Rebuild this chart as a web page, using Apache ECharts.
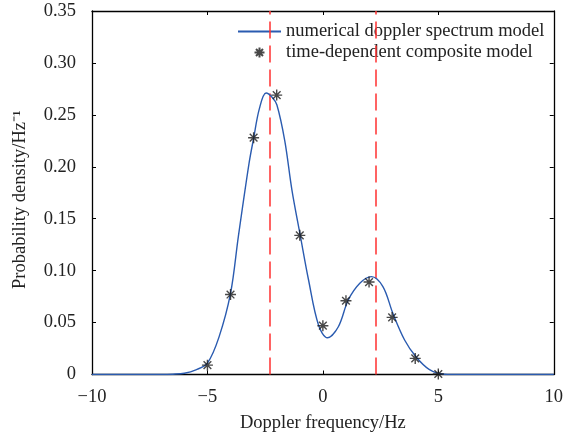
<!DOCTYPE html>
<html>
<head>
<meta charset="utf-8">
<script src="https://cdn.jsdelivr.net/npm/echarts@6/dist/echarts.min.js"></script>
<style>
  html, body { margin: 0; padding: 0; background: #fff; }
  #chart { width: 566px; height: 441px; }
</style>
</head>
<body>
<div id="chart"></div>
<script>
// curve: [frequency, density]
var modelCurve = [
  [-10, 0], [-8, 0], [-7, 0], [-6.5, 0.0003], [-6, 0.0012], [-5.5, 0.0045],
  [-5, 0.011], [-4.5, 0.036], [-4, 0.078], [-3.66, 0.133], [-3.2, 0.203],
  [-3, 0.2274], [-2.75, 0.256], [-2.46, 0.271], [-2.2, 0.267], [-1.99, 0.2595],
  [-1.65, 0.225], [-1.34, 0.1776], [-0.98, 0.134], [-0.62, 0.091],
  [-0.19, 0.0477], [0.2, 0.0354], [0.67, 0.046], [1.1, 0.0717], [1.6, 0.0878],
  [2.1, 0.0942], [2.6, 0.0846], [3.03, 0.059], [3.54, 0.0332], [4.03, 0.0171],
  [4.6, 0.005], [5.25, 0.0003], [6, 0], [8, 0], [10, 0]
];
// composite model samples
var compositeX = [-5, -4, -3, -2, -1, 0, 1, 2, 3, 4, 5];
var compositeY = [0.009, 0.077, 0.228, 0.269, 0.134, 0.047, 0.071, 0.089, 0.055, 0.0155, 0.0005];
// dashed reference lines
var peakLines = [-2.3, 2.3];
var xTicks = ['\u221210', '\u22125', '0', '5', '10'];
var yTicks = ['0', '0.05', '0.10', '0.15', '0.20', '0.25', '0.30', '0.35'];

var font = '"Liberation Serif", "Times New Roman", serif';
var fs = 18.5;
var starPath = 'path://M5,0L5,10M0,5L10,5M1.5,1.5L8.5,8.5M1.5,8.5L8.5,1.5';

var myChart = echarts.init(document.getElementById('chart'));
var axisLine = { onZero: false, lineStyle: { color: '#000', width: 1.3 } };
var tick = { inside: true, length: 4, lineStyle: { color: '#000', width: 1 } };

var option = {
  backgroundColor: '#fff',
  animation: false,
  grid: { left: 92, right: 9, top: 11, bottom: 66.5 },
  legend: {
    orient: 'vertical',
    left: 237,
    top: 21,
    padding: 0,
    itemWidth: 43,
    itemHeight: 10,
    itemGap: 0,
    textStyle: { fontFamily: font, fontSize: fs, color: '#222', lineHeight: 21 },
    data: [
      { name: 'numerical doppler spectrum model', itemStyle: { opacity: 0 } },
      'time-dependent composite model'
    ]
  },
  xAxis: [
    {
      type: 'value', min: -10, max: 10, interval: 5,
      name: 'Doppler frequency/Hz', nameLocation: 'middle', nameGap: 39,
      nameTextStyle: { fontFamily: font, fontSize: fs, color: '#222' },
      axisLine: axisLine, axisTick: tick, splitLine: { show: false },
      axisLabel: {
        fontFamily: font, fontSize: fs, color: '#222', margin: 13,
        formatter: function (v) { return xTicks[Math.round((v + 10) / 5)]; }
      }
    },
    {
      type: 'value', min: -10, max: 10, interval: 5, position: 'top',
      axisLine: axisLine, axisTick: tick, axisLabel: { show: false }, splitLine: { show: false }
    }
  ],
  yAxis: [
    {
      type: 'value', min: 0, max: 0.35, interval: 0.05,
      name: 'Probability density/Hz\u207B\u00B9', nameLocation: 'middle', nameGap: 62,
      nameTextStyle: { fontFamily: font, fontSize: fs, color: '#222', padding: [0, 14, 0, 0] },
      axisLine: axisLine, axisTick: tick, splitLine: { show: false },
      axisLabel: {
        fontFamily: font, fontSize: fs, color: '#222', margin: 16,
        formatter: function (v) { return yTicks[Math.round(v / 0.05)]; }
      }
    },
    {
      type: 'value', min: 0, max: 0.35, interval: 0.05, position: 'right',
      axisLine: axisLine, axisTick: tick, axisLabel: { show: false }, splitLine: { show: false }
    }
  ],
  series: [
    {
      name: 'numerical doppler spectrum model',
      type: 'line',
      data: modelCurve,
      smooth: 0.35,
      symbol: 'none',
      showSymbol: false,
      z: 5,
      lineStyle: { color: '#2a5bb0', width: 1.4 },
      itemStyle: { color: '#2a5bb0' },
      markLine: {
        silent: true,
        symbol: 'none',
        label: { show: false },
        lineStyle: { color: '#ff3030', width: 1.5, type: [17, 7] },
        data: peakLines.map(function (x) { return { xAxis: x }; })
      }
    },
    {
      name: 'time-dependent composite model',
      type: 'scatter',
      data: compositeX.map(function (x, i) { return [x, compositeY[i]]; }),
      symbol: starPath,
      symbolSize: 11,
      z: 6,
      itemStyle: { color: 'none', borderColor: '#1a1a1a', borderWidth: 1.4 }
    }
  ]
};
myChart.setOption(option);
</script>
</body>
</html>
